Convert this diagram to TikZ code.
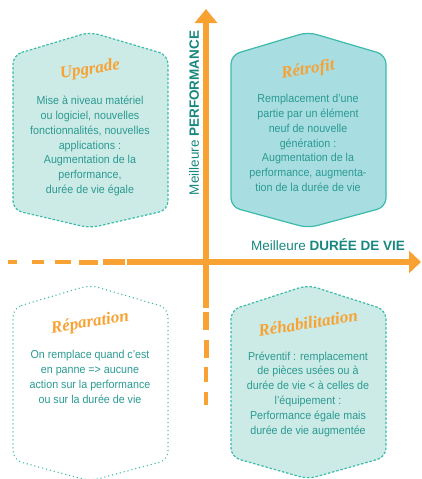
\documentclass[tikz,border=0pt]{standalone}
\usepackage{fontspec}
\setmainfont[FakeStretch=0.93]{Liberation Sans}
\newfontfamily\axisfont{Liberation Sans}
\newfontfamily\titlefont{Liberation Serif}
\usetikzlibrary{arrows.meta}
\definecolor{axeorange}{HTML}{F7A233}
\definecolor{hexteal}{HTML}{3BBBAA}
\definecolor{txtteal}{HTML}{2A9A92}
\definecolor{lblteal}{HTML}{18877F}
\definecolor{mint}{HTML}{CDEBE6}
\definecolor{lagoon}{HTML}{A8DDE2}
\begin{document}
\begin{tikzpicture}[x=1pt,y=-1pt,
  axe/.style={draw=axeorange,line width=5.5pt},
  hexa/.style={draw=hexteal,line width=1.2pt,rounded corners=9pt},
  titre/.style={text=axeorange,rotate=9,font=\titlefont\bfseries\itshape\fontsize{17}{17}\selectfont},
  corps/.style={text=txtteal,align=center,font=\fontsize{11.5}{14.8}\selectfont},
  legende/.style={text=lblteal,font=\axisfont\fontsize{13.5}{13.5}\selectfont}]
\useasboundingbox (0,0) rectangle (422,479);
\path[hexa,fill=mint,dash pattern=on 2.5pt off 1.8pt]
    (13,55) -- (90,32) -- (168,55) -- (168,210) -- (90,228) -- (13,210) -- cycle;
\path[hexa,fill=lagoon]
    (231,55) -- (308,32) -- (386,55) -- (386,207) -- (308,228) -- (231,207) -- cycle;
\path[hexa,dash pattern=on 0pt off 4pt,line cap=round,line width=1.5pt]
    (13,308) -- (90,285) -- (168,308) -- (168,460) -- (90,481) -- (13,460) -- cycle;
\path[hexa,fill=mint,dash pattern=on 2.5pt off 1.8pt]
    (231,310) -- (308,285) -- (386,310) -- (386,457) -- (308,479) -- (231,457) -- cycle;
\coordinate (perf-start) at (206,308);
\coordinate (perf-end) at (206,9);
\coordinate (vie-start) at (127,262);
\coordinate (vie-end) at (421,262);
\draw[axe,-{Triangle[width=22pt,length=14pt]}] (perf-start) -- (perf-end);
\draw[axe,-{Triangle[width=22pt,length=12pt]}] (vie-start) -- (vie-end);
\foreach \a/\b/\w in {8/17/3.5,32/44/4,55/71/4.5,79/98/5,103/125/5.5}
  \draw[axe,line width=\w pt] (\a,262) -- (\b,262);
\foreach \a/\b/\w in {312/330/5.5,340/358/5,367/382/4.5,392/405/4}
  \draw[axe,line width=\w pt] (206,\a) -- (206,\b);
\node[legende,rotate=90] (perf) at (194,113) {Meilleure \textbf{PERFORMANCE}};
\node[legende] (vie) at (328,245) {Meilleure \textbf{DURÉE DE VIE}};
\node[titre] (upgrade) at (90,70) {Upgrade};
\node[corps] (upgrade-txt) at (90,146) {Mise à niveau matériel\\ou logiciel, nouvelles\\fonctionnalités, nouvelles\\applications :\\Augmentation de la\\performance,\\durée de vie égale};
\node[titre] (retrofit) at (308,70) {Rétrofit};
\node[corps] (retrofit-txt) at (308,143) {Remplacement d’une\\partie par un élément\\neuf de nouvelle\\génération :\\Augmentation de la\\performance, augmenta-\\tion de la durée de vie};
\node[titre] (reparation) at (90,323) {Réparation};
\node[corps] (reparation-txt) at (90,377) {On remplace quand c’est\\en panne => aucune\\action sur la performance\\ou sur la durée de vie};
\node[titre] (rehab) at (308,323) {Réhabilitation};
\node[corps] (rehab-txt) at (308,394) {Préventif : remplacement\\de pièces usées ou à\\durée de vie < à celles de\\l’équipement :\\Performance égale mais\\durée de vie augmentée};
\end{tikzpicture}
\end{document}
